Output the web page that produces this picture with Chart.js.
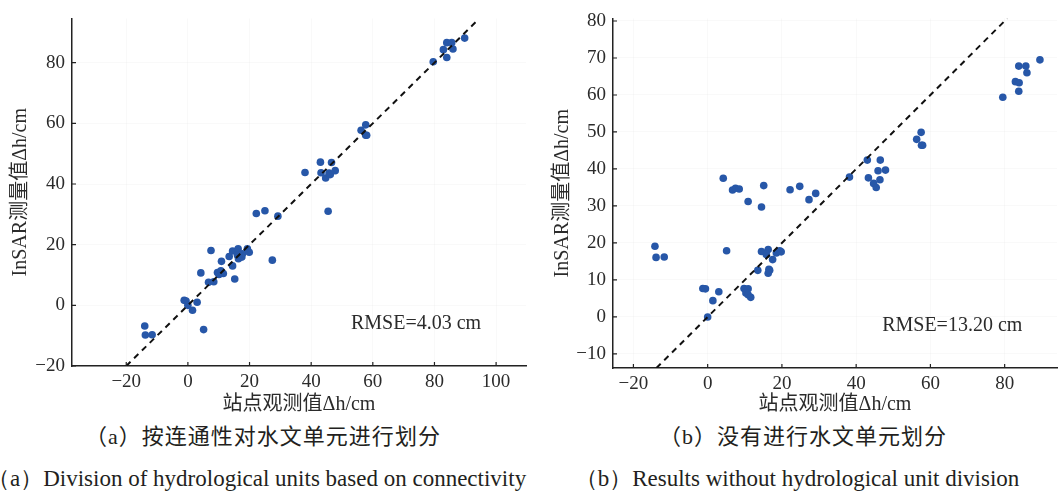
<!DOCTYPE html>
<html>
<head>
<meta charset="utf-8">
<script src="https://cdn.jsdelivr.net/npm/chart.js@4.4.1/dist/chart.umd.min.js"></script>
<style>
  body { margin: 0; background: #fff; }
  #wrap { position: relative; width: 1061px; height: 496px; overflow: hidden; }
  canvas { position: absolute; top: 0; }
  #chartA { left: 0; }
  #chartB { left: 530px; }
  .cap { position: absolute; text-align: center; color: #231f20; white-space: nowrap; line-height: 28px; }
  .zh { top: 423px; font-size: 22px; font-family: "Liberation Serif", "Noto Sans CJK SC", serif; letter-spacing: 1px; }
  .en { top: 465px; font-size: 23px; font-family: "Liberation Serif", serif; }
</style>
</head>
<body>
<div id="wrap">
  <canvas id="chartA" width="530" height="420"></canvas>
  <canvas id="chartB" width="531" height="420"></canvas>
  <div class="cap zh" style="left:0;width:526px">（a）按连通性对水文单元进行划分</div>
  <div class="cap en" style="left:-13px;width:532px">（a）Division of hydrological units based on connectivity</div>
  <div class="cap zh" style="left:540px;width:526px">（b）没有进行水文单元划分</div>
  <div class="cap en" style="left:534px;width:526px">（b）Results without hydrological unit division</div>
</div>
<script>
// (a) hydrological units divided by connectivity
const obsA = [-14.0, -13.8, -11.6, -1.2, -0.6, 0.0, 1.5, 3.0, 4.2, 5.1, 6.7, 7.5, 8.4, 9.6, 10.1, 10.7, 10.9, 11.5,
  13.4, 14.5, 14.5, 15.2, 16.3, 16.1, 16.4, 17.5, 17.7, 19.3, 19.9, 22.2, 25.0, 27.4, 29.2,
  38.0, 43.0, 43.2, 44.7, 45.5, 45.8, 46.2, 46.6, 47.8, 56.2, 57.7, 57.7, 58.0,
  79.6, 82.9, 84.0, 85.6, 86.0, 84.0, 89.8];
const insarA = [-6.8, -9.8, -9.7, 1.7, 1.4, 0.0, -1.6, 1.0, 10.7, -8.0, 7.6, 18.1, 7.8, 10.8, 10.2, 11.4, 14.5, 10.5,
  16.1, 17.9, 13.0, 8.7, 18.6, 16.5, 15.4, 15.9, 17.0, 18.6, 17.5, 30.3, 31.2, 14.9, 29.4,
  43.8, 47.2, 43.7, 42.0, 31.0, 43.6, 43.1, 47.1, 44.4, 57.7, 59.5, 56.1, 56.1,
  80.3, 84.3, 86.6, 86.6, 84.5, 81.7, 88.1];

// (b) no hydrological unit division
const obsB = [-14.2, -13.9, -11.7, -1.3, -0.6, 0.0, 1.4, 3.0, 4.2, 5.1, 6.7, 7.5, 8.5, 9.8, 10.9, 10.3, 10.9, 11.6,
  10.9, 13.5, 14.5, 15.1, 14.5, 16.3, 15.8, 16.5, 16.7, 16.3, 17.5, 18.5, 19.4, 19.8,
  22.2, 24.8, 27.3, 29.1, 38.2, 43.0, 43.3, 44.7, 45.4, 45.9, 46.5, 46.4, 47.9,
  56.3, 57.5, 57.6, 57.9, 79.5, 82.9, 83.9, 83.8, 85.7, 86.0, 83.8, 89.5];
const insarB = [19.1, 16.1, 16.2, 7.7, 7.6, 0.0, 4.4, 6.8, 37.5, 17.9, 34.3, 34.8, 34.6, 7.7, 7.6, 6.5, 6.0, 5.3,
  31.2, 12.6, 29.7, 35.5, 17.7, 18.2, 16.9, 12.9, 12.6, 11.8, 15.5, 17.3, 17.9, 17.6,
  34.4, 35.3, 31.7, 33.4, 37.8, 42.4, 37.6, 36.1, 35.0, 39.5, 42.4, 37.1, 39.7,
  48.0, 49.9, 46.4, 46.4, 59.4, 63.6, 63.3, 67.8, 67.8, 66.0, 61.0, 69.5];

// 1:1 reference line ends
const refLineA = [-20, 94];
const refLineB = [-13.8, 80.7];

const xTicksA = [-20, 0, 20, 40, 60, 80, 100];
const yTicksA = [-20, 0, 20, 40, 60, 80];
const xTicksB = [-20, 0, 20, 40, 60, 80];
const yTicksB = [-10, 0, 10, 20, 30, 40, 50, 60, 70, 80];

const rmseA = 'RMSE=4.03 cm';
const rmseB = 'RMSE=13.20 cm';
const xTitle = '站点观测值Δh/cm';
const yTitle = 'InSAR测量值Δh/cm';

const SERIF = '"Liberation Serif", "Noto Sans CJK SC", serif';
const TEXT = '#2b2b2b';
const DOT = '#2757a8';

const fmt = v => (v < 0 ? '\u2212' + Math.abs(v) : String(v));
const toPts = (xs, ys) => xs.map((x, i) => ({ x, y: ys[i] }));

// short tick marks pointing into the plot + RMSE note
const axisExtras = {
  id: 'axisExtras',
  afterDatasetsDraw(chart, args, opts) {
    const { ctx, chartArea, scales: { x, y } } = chart;
    ctx.save();
    ctx.strokeStyle = '#222';
    ctx.lineWidth = 1.2;
    ctx.beginPath();
    x.ticks.forEach(t => {
      const px = x.getPixelForValue(t.value);
      ctx.moveTo(px, chartArea.bottom);
      ctx.lineTo(px, chartArea.bottom - 4);
    });
    y.ticks.forEach(t => {
      const py = y.getPixelForValue(t.value);
      ctx.moveTo(chartArea.left, py);
      ctx.lineTo(chartArea.left + 4, py);
    });
    ctx.stroke();

    ctx.fillStyle = TEXT;
    ctx.font = '20px ' + SERIF;
    ctx.textAlign = 'left';
    ctx.textBaseline = 'middle';
    ctx.fillText(opts.text, x.getPixelForValue(opts.at[0]), y.getPixelForValue(opts.at[1]));
    ctx.restore();
  }
};

function makeChart(id, cfg) {
  const tickFont = { family: SERIF, size: 19 };
  const titleFont = { family: SERIF, size: 20 };
  return new Chart(document.getElementById(id), {
    type: 'scatter',
    data: {
      datasets: [
        {
          data: toPts(cfg.line, cfg.line),
          showLine: true,
          borderColor: '#111',
          borderWidth: 2,
          borderDash: [6, 5],
          pointRadius: 0
        },
        {
          data: toPts(cfg.xs, cfg.ys),
          backgroundColor: DOT,
          borderWidth: 0,
          pointRadius: 3.8
        }
      ]
    },
    options: {
      responsive: false,
      animation: false,
      layout: { padding: { top: cfg.top, right: cfg.right, left: 0, bottom: 0 } },
      plugins: {
        legend: { display: false },
        tooltip: { enabled: false },
        axisExtras: { text: cfg.rmse, at: cfg.rmseAt }
      },
      scales: {
        x: {
          min: cfg.xRange[0],
          max: cfg.xRange[1],
          afterBuildTicks: s => { s.ticks = cfg.xTicks.map(v => ({ value: v })); },
          afterFit: s => { s.height = cfg.xAxisH; },
          ticks: { font: tickFont, color: TEXT, padding: 5, maxRotation: 0, autoSkip: false, callback: fmt },
          grid: { color: 'rgba(0,0,0,0.025)', drawTicks: false },
          border: { display: true, color: '#222', width: 1.5 },
          title: { display: true, text: xTitle, font: titleFont, color: TEXT, padding: { top: 0, bottom: 3 } }
        },
        y: {
          min: cfg.yRange[0],
          max: cfg.yRange[1],
          afterBuildTicks: s => { s.ticks = cfg.yTicks.map(v => ({ value: v })); },
          afterFit: s => { s.width = cfg.yAxisW; },
          ticks: { font: tickFont, color: TEXT, padding: 7, autoSkip: false, callback: fmt },
          grid: { color: 'rgba(0,0,0,0.025)', drawTicks: false },
          border: { display: true, color: '#222', width: 1.5 },
          title: { display: true, text: yTitle, font: titleFont, color: TEXT, padding: { top: cfg.yTitlePad, bottom: 0 } }
        }
      }
    },
    plugins: [axisExtras]
  });
}

makeChart('chartA', {
  xs: obsA, ys: insarA, line: refLineA,
  xRange: [-37.6, 109.7], yRange: [-20, 94.6],
  xTicks: xTicksA, yTicks: yTicksA,
  top: 12, right: 3, xAxisH: 54, yAxisW: 72, yTitlePad: 9,
  rmse: rmseA, rmseAt: [52.9, -6.1]
});

makeChart('chartB', {
  xs: obsB, ys: insarB, line: refLineB,
  xRange: [-25.5, 94.1], yRange: [-13.8, 80.7],
  xTicks: xTicksB, yTicks: yTicksB,
  top: 13, right: 0, xAxisH: 52, yAxisW: 83, yTitlePad: 21,
  rmse: rmseB, rmseAt: [47.0, -2.5]
});
</script>
</body>
</html>
